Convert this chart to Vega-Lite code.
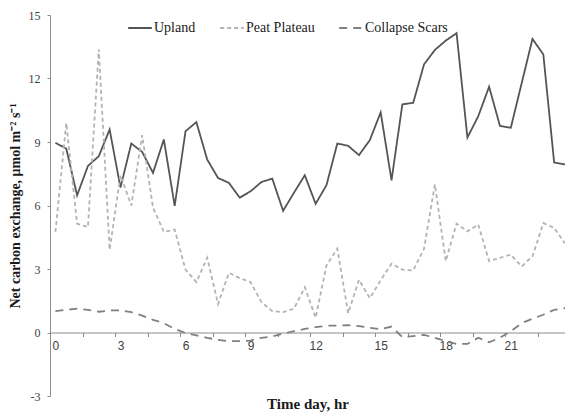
{
  "$schema": "https://vega.github.io/schema/vega-lite/v6.json",
  "width": 515,
  "height": 381,
  "autosize": "none",
  "padding": {"left": 50, "top": 15, "right": 0, "bottom": 19},
  "background": "white",
  "config": {"view": {"stroke": null}, "font": "Liberation Serif"},
  "data": {
    "values": [
      {"t": 0, "Upland": 8.96, "Peat Plateau": 4.75, "Collapse Scars": 1.01},
      {"t": 0.5, "Upland": 8.69, "Peat Plateau": 9.9, "Collapse Scars": 1.07},
      {"t": 1, "Upland": 6.48, "Peat Plateau": 5.14, "Collapse Scars": 1.13},
      {"t": 1.5, "Upland": 7.87, "Peat Plateau": 4.98, "Collapse Scars": 1.07},
      {"t": 2, "Upland": 8.33, "Peat Plateau": 13.38, "Collapse Scars": 0.98},
      {"t": 2.5, "Upland": 9.59, "Peat Plateau": 3.91, "Collapse Scars": 1.04},
      {"t": 3, "Upland": 6.85, "Peat Plateau": 7.43, "Collapse Scars": 1.05},
      {"t": 3.5, "Upland": 8.93, "Peat Plateau": 6.0, "Collapse Scars": 0.96},
      {"t": 4, "Upland": 8.53, "Peat Plateau": 9.32, "Collapse Scars": 0.8},
      {"t": 4.5, "Upland": 7.54, "Peat Plateau": 5.9, "Collapse Scars": 0.6},
      {"t": 5, "Upland": 9.12, "Peat Plateau": 4.75, "Collapse Scars": 0.44},
      {"t": 5.5, "Upland": 5.98, "Peat Plateau": 4.86, "Collapse Scars": 0.17},
      {"t": 6, "Upland": 9.51, "Peat Plateau": 2.97, "Collapse Scars": -0.03},
      {"t": 6.5, "Upland": 9.94, "Peat Plateau": 2.38, "Collapse Scars": -0.14},
      {"t": 7, "Upland": 8.17, "Peat Plateau": 3.53, "Collapse Scars": -0.25},
      {"t": 7.5, "Upland": 7.3, "Peat Plateau": 1.34, "Collapse Scars": -0.35},
      {"t": 8, "Upland": 7.07, "Peat Plateau": 2.82, "Collapse Scars": -0.41},
      {"t": 8.5, "Upland": 6.37, "Peat Plateau": 2.57, "Collapse Scars": -0.41},
      {"t": 9, "Upland": 6.67, "Peat Plateau": 2.38, "Collapse Scars": -0.38},
      {"t": 9.5, "Upland": 7.11, "Peat Plateau": 1.43, "Collapse Scars": -0.25},
      {"t": 10, "Upland": 7.27, "Peat Plateau": 1.01, "Collapse Scars": -0.19},
      {"t": 10.5, "Upland": 5.75, "Peat Plateau": 0.96, "Collapse Scars": -0.06},
      {"t": 11, "Upland": 6.6, "Peat Plateau": 1.12, "Collapse Scars": 0.06},
      {"t": 11.5, "Upland": 7.43, "Peat Plateau": 2.14, "Collapse Scars": 0.17},
      {"t": 12, "Upland": 6.08, "Peat Plateau": 0.7, "Collapse Scars": 0.25},
      {"t": 12.5, "Upland": 6.96, "Peat Plateau": 3.17, "Collapse Scars": 0.32},
      {"t": 13, "Upland": 8.93, "Peat Plateau": 3.96, "Collapse Scars": 0.33},
      {"t": 13.5, "Upland": 8.82, "Peat Plateau": 0.91, "Collapse Scars": 0.35},
      {"t": 14, "Upland": 8.38, "Peat Plateau": 2.49, "Collapse Scars": 0.3},
      {"t": 14.5, "Upland": 9.09, "Peat Plateau": 1.62, "Collapse Scars": 0.22},
      {"t": 15, "Upland": 10.4, "Peat Plateau": 2.47, "Collapse Scars": 0.16},
      {"t": 15.5, "Upland": 7.19, "Peat Plateau": 3.25, "Collapse Scars": 0.28},
      {"t": 16, "Upland": 10.78, "Peat Plateau": 2.97, "Collapse Scars": -0.22},
      {"t": 16.5, "Upland": 10.85, "Peat Plateau": 2.93, "Collapse Scars": -0.17},
      {"t": 17, "Upland": 12.67, "Peat Plateau": 3.96, "Collapse Scars": -0.11},
      {"t": 17.5, "Upland": 13.35, "Peat Plateau": 7.0, "Collapse Scars": -0.25},
      {"t": 18, "Upland": 13.79, "Peat Plateau": 3.37, "Collapse Scars": -0.41},
      {"t": 18.5, "Upland": 14.14, "Peat Plateau": 5.14, "Collapse Scars": -0.54},
      {"t": 19, "Upland": 9.21, "Peat Plateau": 4.78, "Collapse Scars": -0.54},
      {"t": 19.5, "Upland": 10.22, "Peat Plateau": 5.1, "Collapse Scars": -0.25},
      {"t": 20, "Upland": 11.61, "Peat Plateau": 3.37, "Collapse Scars": -0.46},
      {"t": 20.5, "Upland": 9.76, "Peat Plateau": 3.53, "Collapse Scars": -0.25},
      {"t": 21, "Upland": 9.67, "Peat Plateau": 3.68, "Collapse Scars": 0.06},
      {"t": 21.5, "Upland": 11.77, "Peat Plateau": 3.12, "Collapse Scars": 0.44},
      {"t": 22, "Upland": 13.87, "Peat Plateau": 3.6, "Collapse Scars": 0.65},
      {"t": 22.5, "Upland": 13.14, "Peat Plateau": 5.17, "Collapse Scars": 0.84},
      {"t": 23, "Upland": 8.03, "Peat Plateau": 4.94, "Collapse Scars": 1.07},
      {"t": 23.5, "Upland": 7.94, "Peat Plateau": 4.2, "Collapse Scars": 1.15}
    ]
  },
  "transform": [
    {"fold": ["Upland", "Peat Plateau", "Collapse Scars"], "as": ["series", "value"]}
  ],
  "mark": {"type": "line", "strokeWidth": 1.8},
  "encoding": {
    "x": {
      "field": "t",
      "type": "quantitative",
      "scale": {"domain": [-0.25, 23.5], "nice": false, "zero": false},
      "axis": {
        "title": "Time day, hr",
        "values": [0, 1.25, 2.75, 3, 4.25, 5.75, 6, 7.25, 8.75, 9, 10.25, 11.75, 12, 13.25, 14.75, 15, 16.25, 17.75, 18, 19.25, 20.75, 21, 22.25],
        "labelExpr": "datum.value % 3 === 0 ? datum.label : ''",
        "tickOpacity": {"condition": {"test": "datum.value % 3 === 0", "value": 0}, "value": 1},
        "offset": -63.5,
        "grid": false,
        "labelFlush": false,
        "labelOverlap": false,
        "domainColor": "#8c8c8c",
        "tickColor": "#8c8c8c",
        "tickSize": 4,
        "labelPadding": 4,
        "labelFont": "Liberation Sans",
        "labelFontSize": 12,
        "labelColor": "#404040",
        "titleFont": "Liberation Serif",
        "titleFontSize": 15,
        "titleFontWeight": "bold",
        "titleColor": "#1a1a1a",
        "titlePadding": 45
      }
    },
    "y": {
      "field": "value",
      "type": "quantitative",
      "scale": {"domain": [-3, 15], "nice": false},
      "axis": {
        "title": "Net carbon exchange, μmol m⁻² s⁻¹",
        "values": [-3, 0, 3, 6, 9, 12, 15],
        "labelExpr": "replace(datum.label, '−', '-')",
        "grid": false,
        "tickSize": 3,
        "labelPadding": 7,
        "labelFont": "Liberation Serif",
        "labelFontSize": 12,
        "labelColor": "#404040",
        "domainColor": "#8c8c8c",
        "tickColor": "#8c8c8c",
        "titleFont": "Liberation Serif",
        "titleFontSize": 14,
        "titleFontWeight": "bold",
        "titleColor": "#1a1a1a",
        "titlePadding": 6
      }
    },
    "color": {
      "field": "series",
      "type": "nominal",
      "scale": {
        "domain": ["Upland", "Peat Plateau", "Collapse Scars"],
        "range": ["#555555", "#b3b3b3", "#808080"]
      },
      "legend": {
        "orient": "none",
        "legendX": 77,
        "legendY": 0,
        "direction": "horizontal",
        "title": null,
        "symbolType": "stroke",
        "symbolSize": 560,
        "symbolStrokeWidth": 1.8,
        "labelFont": "Liberation Serif",
        "labelFontSize": 14,
        "labelColor": "#1a1a1a",
        "labelOffset": 1,
        "columnPadding": 20
      }
    },
    "strokeDash": {
      "field": "series",
      "type": "nominal",
      "scale": {
        "domain": ["Upland", "Peat Plateau", "Collapse Scars"],
        "range": [[1, 0], [4, 3], [8, 6]]
      }
    }
  }
}
